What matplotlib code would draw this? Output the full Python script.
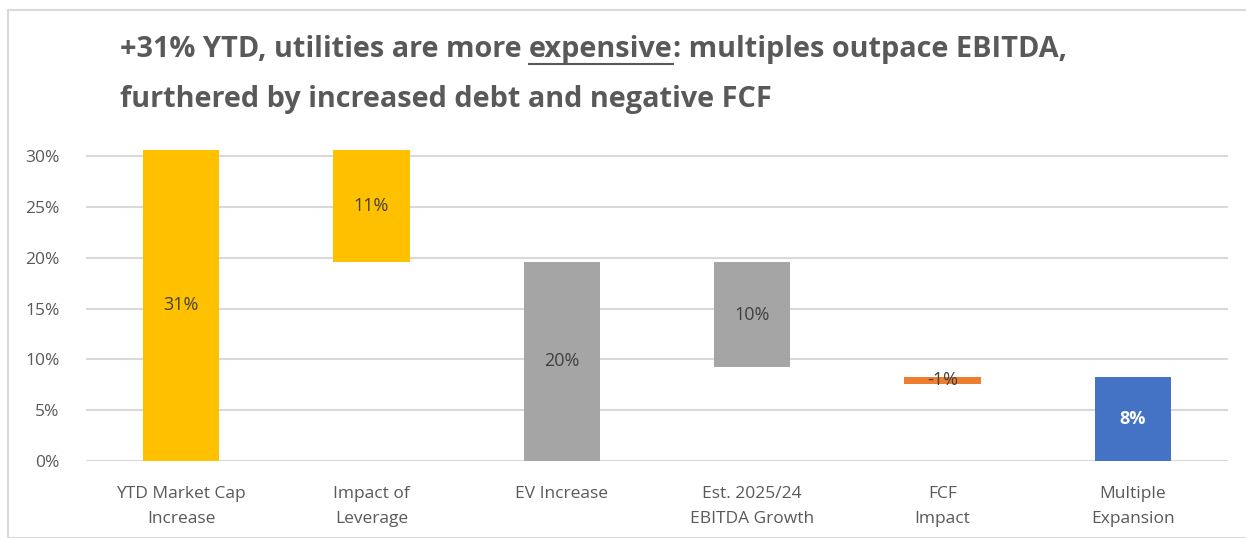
import matplotlib
matplotlib.use('Agg')
import matplotlib.pyplot as plt
from matplotlib.patches import Rectangle
from matplotlib.lines import Line2D

categories = ['YTD Market Cap\nIncrease', 'Impact of\nLeverage', 'EV Increase',
              'Est. 2025/24\nEBITDA Growth', 'FCF\nImpact', 'Multiple\nExpansion']
# bar sizes and the level each floating bar sits on
values = [30.6, 11.0, 19.6, 10.4, -0.7, 8.3]
bottoms = [0.0, 19.6, 0.0, 9.2, 8.3, 0.0]
colors = ['#FFC000', '#FFC000', '#A5A5A5', '#A5A5A5', '#ED7D31', '#4472C4']
label_colors = ['#404040', '#404040', '#404040', '#404040', '#404040', 'white']
yticks = [0, 5, 10, 15, 20, 25, 30]

plt.rcParams['font.family'] = ['Open Sans', 'DejaVu Sans']

fig = plt.figure(figsize=(12.46, 5.38), dpi=100)
W, H = 1246.0, 538.0

# light frame round the whole chart
fig.patches.append(Rectangle((8 / W, 0), 1.0, 1 - 10 / H, transform=fig.transFigure,
                             fill=False, edgecolor='#d9d9d9', linewidth=1.5))

ax = fig.add_axes([86 / W, 1 - 461 / H, 1142 / W, 311 / H])

xs = range(len(categories))
ax.bar(xs, values, bottom=bottoms, width=0.4, color=colors, zorder=3)

for x, b, v, lc in zip(xs, bottoms, values, label_colors):
    weight = 'bold' if lc == 'white' else 'normal'
    ax.text(x, b + v / 2.0, '%.0f%%' % v, ha='center', va='center',
            fontsize=13, color=lc, fontweight=weight, zorder=4)

ax.set_xlim(-0.5, len(categories) - 0.5)
ax.set_ylim(0, 30.6)
ax.set_yticks(yticks)
ax.set_yticklabels(['%d%%' % t for t in yticks])
ax.set_xticks(list(xs))
ax.set_xticklabels(categories, linespacing=1.75)
ax.tick_params(axis='y', length=0, pad=19, labelsize=12.5, labelcolor='#595959')
ax.tick_params(axis='x', length=0, pad=18, labelsize=12.5, labelcolor='#595959')
ax.grid(axis='y', color='#d9d9d9', linewidth=1.5, zorder=0)
ax.set_axisbelow(True)
for sp in ax.spines.values():
    sp.set_visible(False)

# title, drawn in pieces so "expensive" can be underlined
title_kw = dict(fontsize=20.8, fontweight='bold', color='#595959', va='baseline')
renderer = fig.canvas.get_renderer()
x0 = 120 / W
y1 = 1 - 57 / H
t1 = fig.text(x0, y1, '+31% YTD, utilities are more ', **title_kw)
b1 = t1.get_window_extent(renderer)
t2 = fig.text(b1.x1 / W, y1, 'expensive', **title_kw)
b2 = t2.get_window_extent(renderer)
fig.text(b2.x1 / W, y1, ': multiples outpace EBITDA,', **title_kw)
uy = y1 - 7 / H
fig.lines.append(Line2D([b2.x0 / W, b2.x1 / W], [uy, uy], transform=fig.transFigure,
                        color='#595959', linewidth=1.5))
fig.text(x0, 1 - 107 / H, 'furthered by increased debt and negative FCF', **title_kw)

plt.savefig('out.png', dpi=100)
